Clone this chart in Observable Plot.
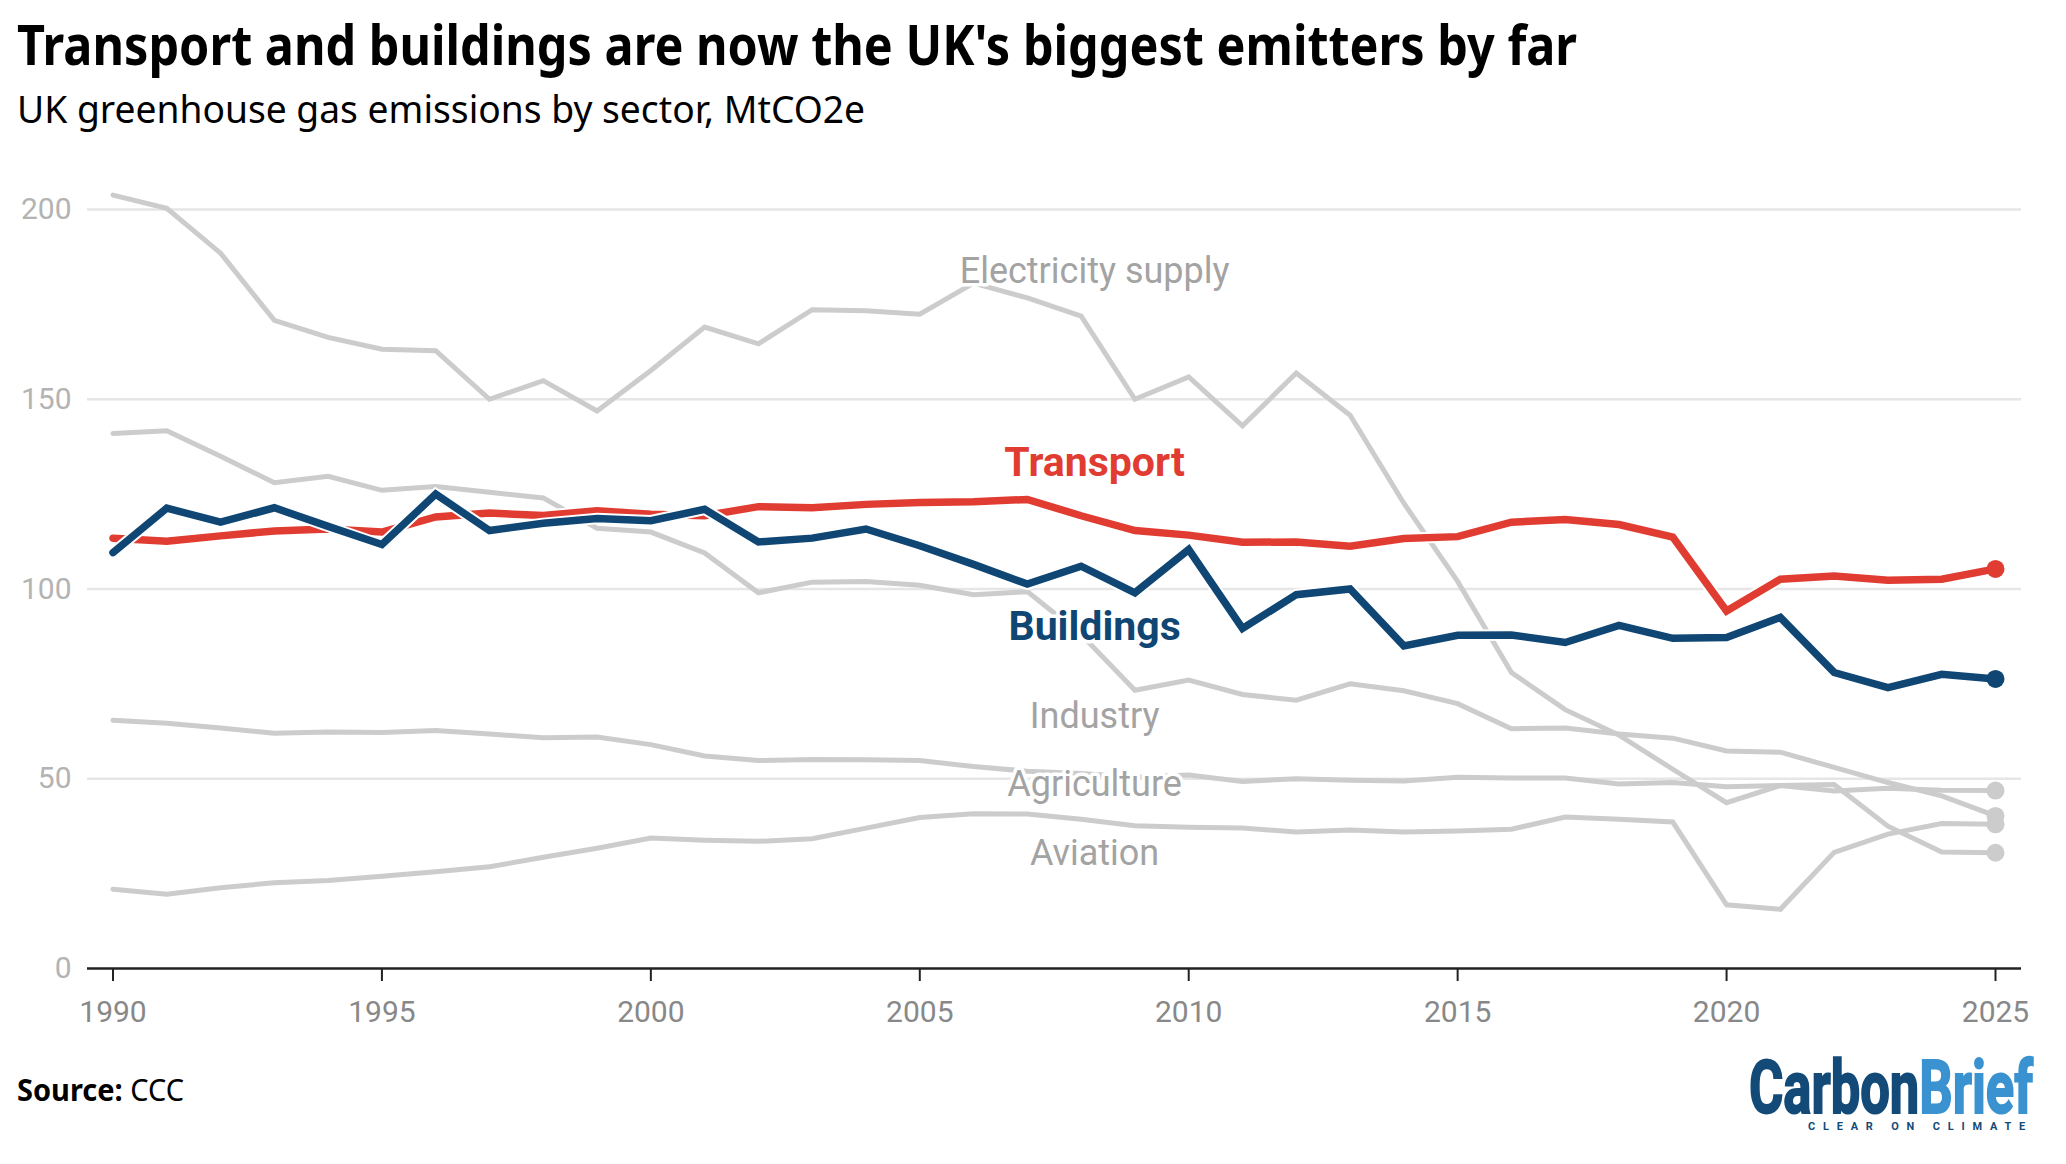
<!DOCTYPE html>
<html><head><meta charset="utf-8">
<script src="https://cdn.jsdelivr.net/npm/d3@7"></script>
<script src="https://cdn.jsdelivr.net/npm/@observablehq/plot@0.6"></script>
<style>
html,body{margin:0;background:#fff;width:2066px;height:1164px;overflow:hidden}
#page{position:relative;width:2066px;height:1164px}
.t{position:absolute;white-space:nowrap;transform-origin:0 0;line-height:1;font-family:"Noto Sans",sans-serif}
#title{left:17px;top:15px;font-size:56px;font-weight:700;color:#000}
#subtitle{left:17px;top:88px;font-size:39px;color:#000}
#source{left:17px;top:1075px;font-size:30px;color:#000}
#source b{font-weight:700}
#logo{left:1749px;top:1054px;font-size:75px;line-height:.9;font-weight:700;font-family:"Roboto",sans-serif;-webkit-text-stroke:2px currentColor}
#tag{left:1808px;top:1122px;font-size:10.5px;font-weight:700;color:#134a77;letter-spacing:7.5px;font-family:"Roboto",sans-serif}
#chart{position:absolute;left:0;top:150px}
</style></head><body>
<div id="page">
<div class="t" id="title" data-w="1560">Transport and buildings are now the UK's biggest emitters by far</div>
<div class="t" id="subtitle" data-w="848">UK greenhouse gas emissions by sector, MtCO2e</div>
<div id="chart"></div>
<div class="t" id="source" data-w="167"><b>Source:</b> CCC</div>
<div class="t" id="logo" data-w="284"><span style="color:#134a77">Carbon</span><span style="color:#3a92d0">Brief</span></div>
<div class="t" id="tag" data-w="225">CLEAR ON CLIMATE</div>
</div>
<script>
const years = d3.range(1990, 2026);
const electricity = [203.8,200.3,188.5,170.8,166.3,163.2,162.8,150,154.9,146.9,157.6,169,164.6,173.6,173.3,172.4,180.6,176.7,171.9,150,155.9,143,156.9,145.8,122.6,102,78,68.2,61.5,52.5,43.7,48.2,48.5,37.5,30.7,30.5];
const industry = [141,141.7,135,128,129.7,126,127,125.5,124,116,115,109.5,99,101.8,102,101,98.5,99.3,88,73.3,76,72.2,70.7,75,73.2,69.8,63.2,63.4,61.8,60.7,57.3,57,53,49,45.5,40.2];
const agriculture = [65.4,64.6,63.4,62,62.3,62.2,62.7,61.8,60.8,61,59,56,54.8,55.1,55,54.8,53.2,52,51.4,50.4,51,49.3,50,49.6,49.4,50.4,50.2,50.2,48.6,49,47.9,48.2,46.8,47.5,47,46.9];
const aviation = [20.9,19.6,21.3,22.6,23.2,24.3,25.5,26.8,29.3,31.7,34.4,33.8,33.5,34.2,37,39.8,40.8,40.7,39.3,37.6,37.2,37,36,36.5,36,36.2,36.7,39.9,39.3,38.6,16.8,15.6,30.6,35.4,38.2,38];
const transport = [113.4,112.6,114,115.3,115.8,115,119,120,119.4,120.6,119.7,119.3,121.7,121.4,122.3,122.8,123,123.6,119.3,115.4,114.2,112.3,112.4,111.3,113.3,113.8,117.6,118.3,117,113.7,94.2,102.6,103.4,102.3,102.6,105.3];
const buildings = [109.6,121.3,117.6,121.4,116.5,111.7,125,115.4,117.3,118.6,118,121,112.4,113.4,115.8,111.4,106.5,101.3,106,99,110.4,89.6,98.5,100,85,87.8,87.9,85.9,90.4,87,87.2,92.5,78,74,77.5,76.3];

const greyLabels = ["Electricity supply","Industry","Agriculture","Aviation"];
const greyLabelValues = [183.7,66.3,48.6,30.2];
const strongLabels = ["Transport","Buildings"];
const strongLabelValues = [133.3,90];
const labelYear = 2008.25;
const grey = "#cccccc", red = "#e03c32", blue = "#0f4674";
const xTicks = [1990,1995,2000,2005,2010,2015,2020,2025];
const yTicks = [0,50,100,150,200];

const rows = v => years.map((year,i)=>({year,value:v[i]}));
const greys = [electricity,industry,agriculture,aviation];
const line = (v,stroke,w) => Plot.line(rows(v),{x:"year",y:"value",stroke,strokeWidth:w,strokeLinejoin:"miter",strokeMiterlimit:4,curve:"linear"});
const last = (v,fill) => Plot.dot(rows(v).slice(-1),{x:"year",y:"value",fill,r:9,stroke:"none"});
const labelHalo = {stroke:"#fff",strokeWidth:7,paintOrder:"stroke",strokeLinejoin:"round"};

const plot = Plot.plot({
  width:2066,height:900,marginLeft:87,marginRight:45,marginTop:30,marginBottom:82,
  style:{background:"transparent",fontFamily:"Roboto,sans-serif",overflow:"visible"},
  x:{domain:[1990,2025],range:[112.5,1995]},
  y:{domain:[0,200],range:[818,59]},
  marks:[
    Plot.ruleY(yTicks.slice(1),{stroke:"#e6e6e6",strokeWidth:2.5}),
    ...greys.map(v=>line(v,grey,5)),
    ...greys.map(v=>last(v,grey)),
    line(transport,"#fff",11.5), line(transport,red,7.5), last(transport,red),
    line(buildings,"#fff",11.5), line(buildings,blue,7.5), last(buildings,blue),
    Plot.ruleY([0],{stroke:"#222",strokeWidth:2.6}),
    Plot.axisX({ticks:xTicks,tickFormat:"d",tickSize:13,tickPadding:19,fontSize:30,color:"#888",stroke:"#222",strokeWidth:2,label:null}),
    Plot.axisY({ticks:yTicks,tickSize:0,tickPadding:16,fontSize:30,color:"#b3b3b3",label:null}),
    Plot.text(greyLabels.map((name,i)=>({name,value:greyLabelValues[i],year:labelYear})),{
      x:"year",y:"value",text:"name",fontSize:36,fill:"#a3a3a3",...labelHalo}),
    Plot.text(strongLabels.map((name,i)=>({name,value:strongLabelValues[i],year:labelYear})),{
      x:"year",y:"value",text:"name",fontSize:41,fontWeight:700,
      fill:d=>d.name==="Transport"?red:blue,...labelHalo})
  ]
});
document.getElementById("chart").append(plot);
document.fonts.ready.then(()=>{
  document.querySelectorAll(".t[data-w]").forEach(el=>{
    const w=el.getBoundingClientRect().width;
    el.style.transform=`scaleX(${+el.dataset.w/w})`;
  });
});
</script>
</body></html>
